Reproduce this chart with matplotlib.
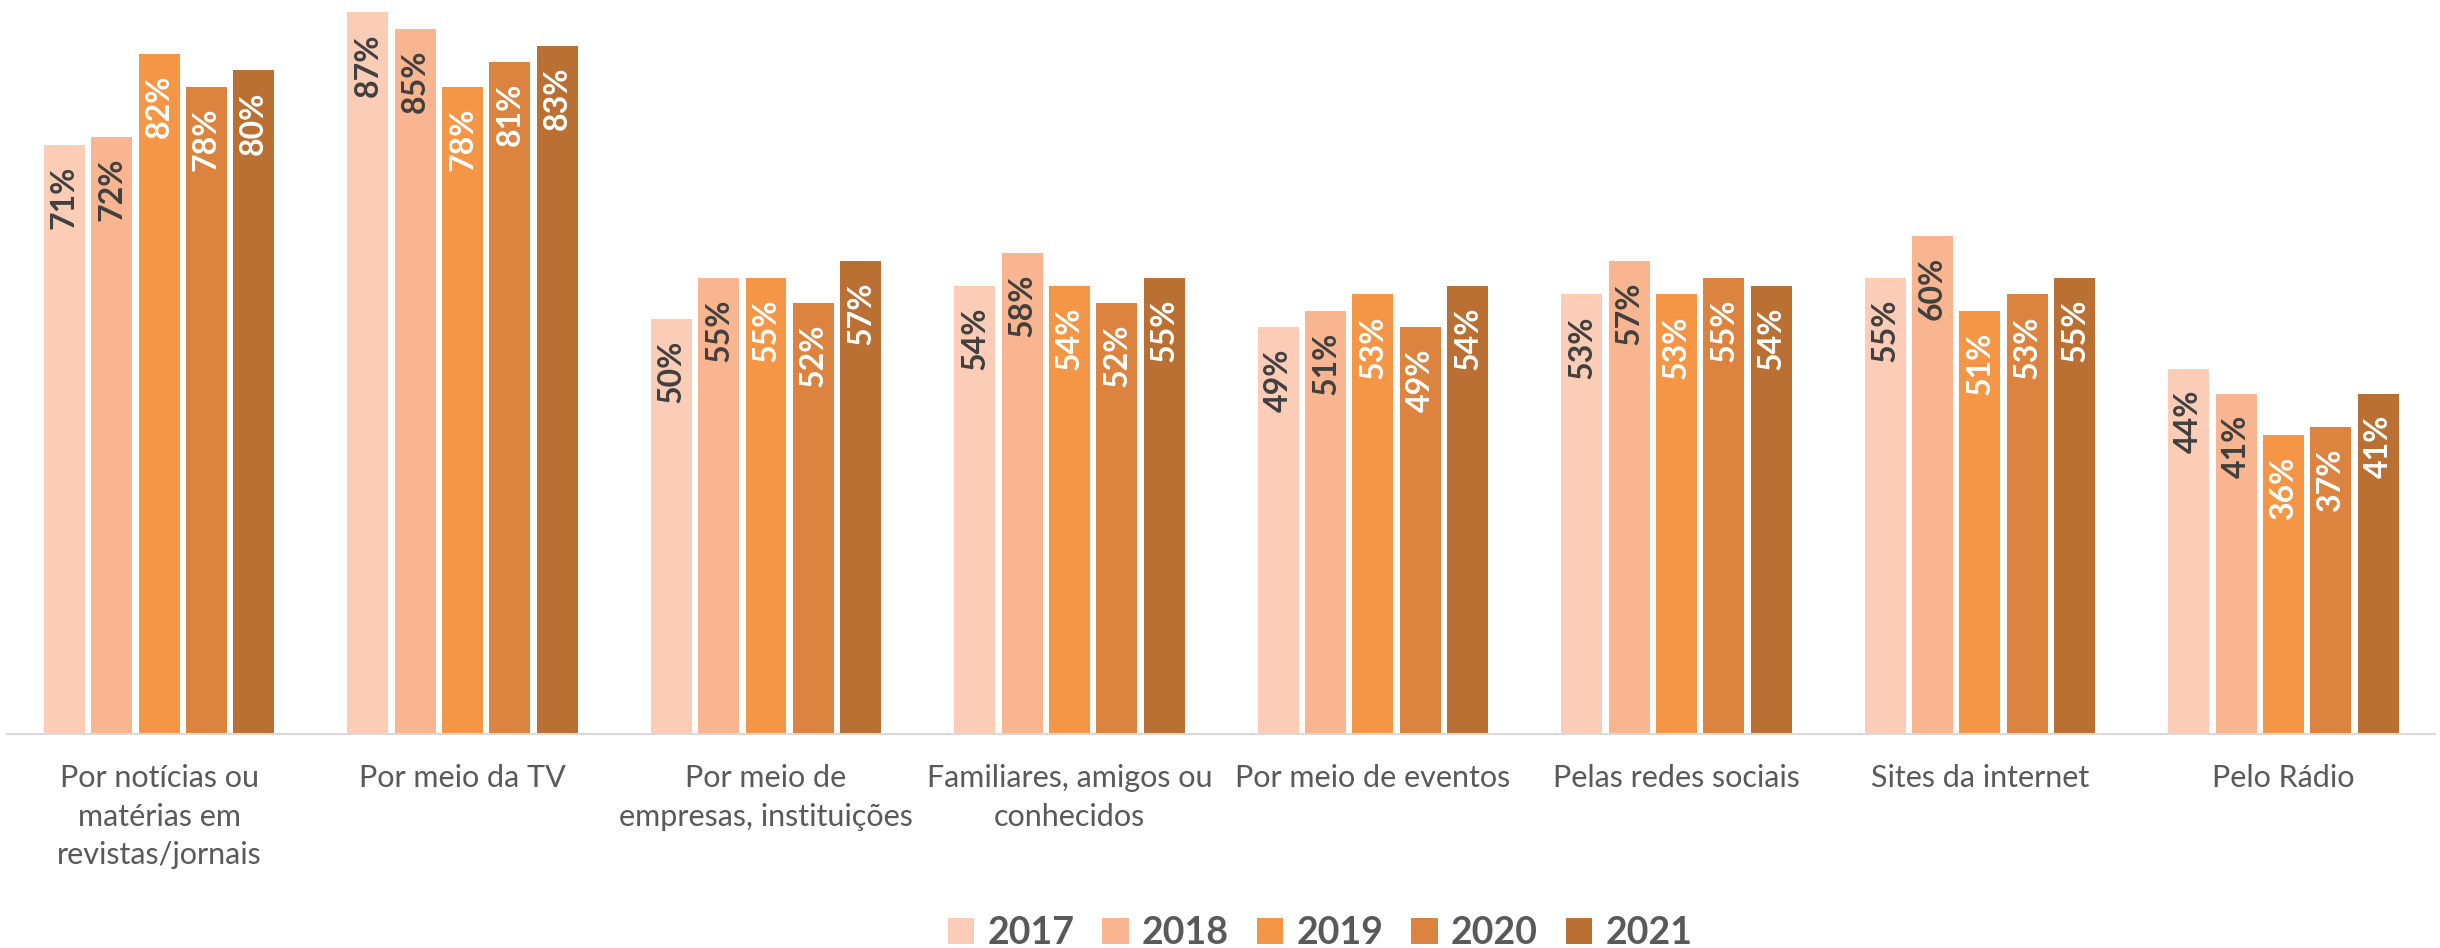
import matplotlib
matplotlib.use("Agg")
import matplotlib.pyplot as plt
import numpy as np

plt.rcParams['font.family'] = ['Lato', 'DejaVu Sans']

categories = ["Por notícias ou\nmatérias em\nrevistas/jornais", "Por meio da TV",
              "Por meio de\nempresas, instituições", "Familiares, amigos ou\nconhecidos",
              "Por meio de eventos", "Pelas redes sociais", "Sites da internet", "Pelo Rádio"]
years = ["2017", "2018", "2019", "2020", "2021"]

# percent per year, one value per category
v2017 = [71, 87, 50, 54, 49, 53, 55, 44]
v2018 = [72, 85, 55, 58, 51, 57, 60, 41]
v2019 = [82, 78, 55, 54, 53, 53, 51, 36]
v2020 = [78, 81, 52, 52, 49, 55, 53, 37]
v2021 = [80, 83, 57, 55, 54, 54, 55, 41]
series = [v2017, v2018, v2019, v2020, v2021]

colors = ['#FBCDB7', '#F9B590', '#F59646', '#DB833F', '#BA7033']
label_colors = ['#404040', '#404040', 'white', 'white', 'white']

fig = plt.figure(figsize=(24.4, 9.48), dpi=100)
ax = fig.add_axes([0.003, 0.226, 0.995, 0.774])

x = np.arange(len(categories))
step = 0.156
width = 0.135
for j, vals in enumerate(series):
    pos = x + (j - 2) * step
    bars = ax.bar(pos, vals, width=width, color=colors[j], label=years[j], zorder=2)
    for b, v in zip(bars, vals):
        ax.annotate(f"{v}%", (b.get_x() + b.get_width() / 2, v), xytext=(0, -15),
                    textcoords='offset points', rotation=90, ha='center', va='top',
                    fontsize=23, fontweight='bold', color=label_colors[j])

ax.set_xlim(-0.5, len(categories) - 0.5)
ax.set_ylim(0, 88.5)
ax.set_yticks([])
ax.set_xticks(x)
ax.set_xticklabels(categories, fontsize=22, color='#595959', linespacing=1.45)
ax.tick_params(axis='x', length=0, pad=22)
for s in ['top', 'right', 'left']:
    ax.spines[s].set_visible(False)
ax.spines['bottom'].set_color('#D9D9D9')
ax.spines['bottom'].set_linewidth(1.5)

leg = fig.legend(loc='center', bbox_to_anchor=(0.541, 0.016), ncol=5, frameon=False,
                 prop={'size': 27, 'weight': 'bold'}, handlelength=0.7, handleheight=0.7,
                 handletextpad=0.35, columnspacing=0.75, labelcolor='#595959')

fig.savefig("out.png", dpi=100)
